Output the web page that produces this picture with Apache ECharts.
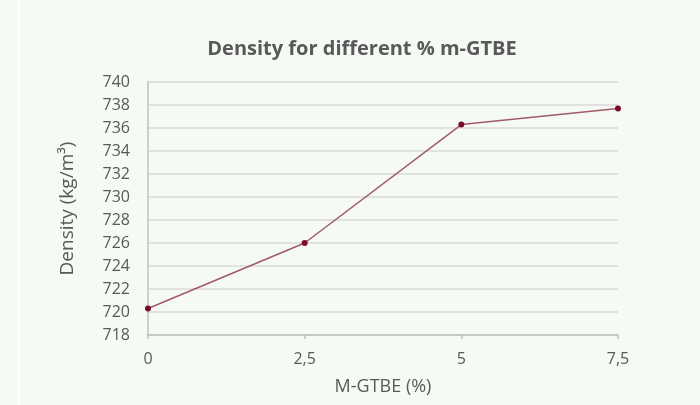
<!DOCTYPE html>
<html><head><meta charset="utf-8">
<script src="https://cdn.jsdelivr.net/npm/echarts@6/dist/echarts.min.js"></script>
<style>html,body{margin:0;padding:0;background:#f5faf5;}#c{width:700px;height:405px;}</style>
</head><body><div id="c"></div>
<script>
const mgtbe = [0, 2.5, 5, 7.5];
const density = [720.3, 726.0, 736.3, 737.7];
const yTicks = [718, 740, 2];

const chart = echarts.init(document.getElementById('c'));
const font = '"Open Sans", "Noto Sans", sans-serif';
chart.setOption({
  backgroundColor: '#f5faf5',
  animation: false,
  graphic: [{type:'rect', shape:{x:18, y:0, width:2, height:405}, style:{fill:'#ffffff'}}],
  title: {
    text: 'Density for different % m-GTBE',
    left: 357, top: 34, textAlign: 'center',
    textStyle: {fontFamily: font, fontSize: 20, fontWeight: 'bold', color: '#595959'}
  },
  grid: {left: 148, right: 82, top: 82, bottom: 70},
  xAxis: {
    type: 'value', min: 0, max: 7.5, interval: 2.5,
    name: 'M-GTBE (%)', nameLocation: 'middle', nameGap: 43,
    nameTextStyle: {fontFamily: font, fontSize: 18, color: '#595959'},
    axisLine: {show: true, lineStyle: {color: '#bfbfbf', width: 1.5}},
    axisTick: {show: true, length: 4, lineStyle: {color: '#bfbfbf', width: 1.5}},
    splitLine: {show: false},
    axisLabel: {fontFamily: font, fontSize: 16, color: '#595959', margin: 16,
      formatter: v => String(v).replace('.', ',')}
  },
  yAxis: {
    type: 'value', min: yTicks[0], max: yTicks[1], interval: yTicks[2],
    name: 'Density (kg/m³)', nameLocation: 'middle', nameGap: 71, nameRotate: 90,
    nameTextStyle: {fontFamily: font, fontSize: 19, color: '#595959'},
    axisLine: {show: true, lineStyle: {color: '#bfbfbf', width: 1.5}},
    axisTick: {show: false},
    splitLine: {show: true, lineStyle: {color: '#d9d9d9', width: 1.5}},
    axisLabel: {fontFamily: font, fontSize: 16, color: '#595959', margin: 18}
  },
  series: [{
    type: 'line',
    data: mgtbe.map((x, i) => [x, density[i]]),
    symbol: 'circle', symbolSize: 6,
    lineStyle: {color: '#a35a68', width: 1.5},
    itemStyle: {color: '#7a0a2c'}
  }]
});
</script></body></html>
